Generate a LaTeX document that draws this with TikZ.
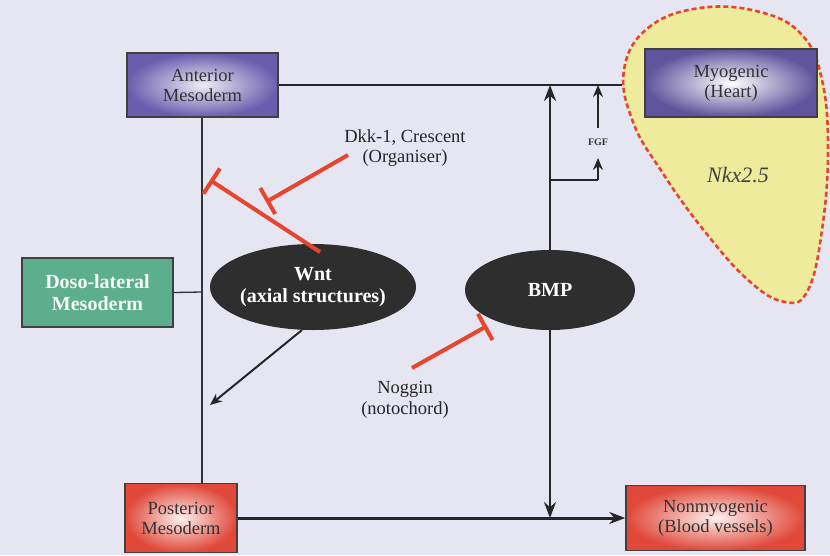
\documentclass[tikz,border=0pt]{standalone}
\usepackage{fontspec}
\setmainfont{Liberation Serif}
\usetikzlibrary{arrows.meta,shapes.geometric}
\definecolor{bg}{HTML}{E6E6F3}
\definecolor{inh}{HTML}{E8452F}
\definecolor{blob}{HTML}{EEEC9C}
\definecolor{purp}{HTML}{6A5DAE}
\definecolor{redb}{HTML}{E0483A}
\definecolor{grn}{HTML}{5DAE8C}
\begin{document}
\begin{tikzpicture}[x=1pt,y=-1pt,
  boxtext/.style={font=\fontsize{18.5}{20}\selectfont,align=center,text=black!80},
  purpbox/.style={draw=black!75,line width=1.5pt,inner color=purp!12,outer color=purp,boxtext},
  redbox/.style={draw=black!75,line width=1.5pt,inner color=redb!8,outer color=redb,boxtext},
  grnbox/.style={draw=black!75,line width=1.5pt,fill=grn,align=center,text=white!95!grn,font=\bfseries\fontsize{20}{22}\selectfont},
  oval/.style={ellipse,fill=black!82,text=white,align=center,font=\bfseries\fontsize{20}{22}\selectfont,inner sep=0pt},
  arr/.style={draw=black!85,-{Stealth[length=16pt,width=12pt]}},
  sarr/.style={draw=black!85,-{Stealth[length=12pt,width=10pt]}},
  inhib/.style={draw=inh,line width=4pt,-{Bar[width=30pt,line width=4pt]}},
  lbl/.style={font=\fontsize{18.5}{20.5}\selectfont,align=center,text=black!85}]
\useasboundingbox (0,0) rectangle (830,555);
\fill[bg] (0,0) rectangle (830,555);
% yellow blob
\fill[blob] plot[smooth cycle,tension=0.7] coordinates {(624,70) (648,28) (700,8) (760,12) (802,35) (822,80) (828,150) (822,230) (808,290) (785,302) (748,280) (702,228) (662,172) (633,122)};
\draw[inh,line width=2.6pt,dash pattern=on 5pt off 3pt] plot[smooth cycle,tension=0.7] coordinates {(624,70) (648,28) (700,8) (760,12) (802,35) (822,80) (828,150) (822,230) (808,290) (785,302) (748,280) (702,228) (662,172) (633,122)};
\node[font=\itshape\fontsize{22}{24}\selectfont,text=black!75] (nkx) at (738,175) {Nkx2.5};
% boxes
\node[purpbox,minimum width=151pt,minimum height=64pt] (ant) at (202.5,85) {Anterior\\Mesoderm};
\node[purpbox,minimum width=172pt,minimum height=68pt,inner color=white,outer color=purp!90!black] (myo) at (731,83) {Myogenic\\(Heart)};
\node[grnbox,minimum width=151pt,minimum height=69pt] (dl) at (97.5,292.5) {Doso-lateral\\Mesoderm};
\node[redbox,minimum width=112pt,minimum height=69pt] (post) at (181,518) {Posterior\\Mesoderm};
\node[redbox,minimum width=179pt,minimum height=65pt] (nonm) at (715.5,518) {Nonmyogenic\\(Blood vessels)};
% ovals
\node[oval,minimum width=190pt,minimum height=86pt] (wnt) at (313,287) {Wnt\\(axial structures)};
\node[oval,minimum width=170pt,minimum height=80pt] (bmp) at (550,290) {BMP};
% coordinates
\coordinate (lt) at (202,117);
\coordinate (lb) at (202,482);
\coordinate (lm) at (202,292);
\coordinate (topend) at (622,85);
\coordinate (bmptop) at (550,85);
\coordinate (bmpbot) at (550,518);
\coordinate (fgfj) at (550,180);
\coordinate (fgfc) at (598,180);
\coordinate (fgfa) at (598,158);
\coordinate (fgfb) at (598,128);
\coordinate (fgft) at (598,85);
% lines
\draw[black!80,line width=1.3pt] (ant.south -| lt) -- (post.north -| lb);
\draw[black!80,line width=1.3pt] (dl.east) -- (lm);
\draw[black!85,line width=2pt] (ant.east) -- (topend);
\draw[arr,line width=2.8pt] (bmp.north) -- (bmptop);
\draw[arr,line width=2.2pt] (bmp.south) -- (bmpbot);
\draw[arr,line width=3pt] (post.east) -- (nonm.west);
\draw[black!85,line width=1.5pt] (fgfj) -- (fgfc);
\draw[sarr,line width=1.8pt] (fgfc) -- (fgfa);
\draw[sarr,line width=1.8pt] (fgfb) -- (fgft);
\node[font=\bfseries\fontsize{10}{11}\selectfont,text=black!80] (fgf) at (598,142) {FGF};
\coordinate (wa) at (302,330);
\coordinate (wb) at (210,405);
\draw[sarr,line width=2pt] (wa) -- (wb);
% inhibitory
\coordinate (i1s) at (320,252);
\coordinate (i1e) at (210,180);
\draw[inhib] (i1s) -- (i1e);
\coordinate (i2s) at (348,155);
\coordinate (i2e) at (266,202);
\draw[inhib] (i2s) -- (i2e);
\coordinate (i3s) at (412,368);
\coordinate (i3e) at (487,326);
\draw[inhib] (i3s) -- (i3e);
% labels
\node[lbl] (dkk) at (405,148) {Dkk-1, Crescent\\(Organiser)};
\node[lbl] (nog) at (405,400) {Noggin\\(notochord)};
\end{tikzpicture}
\end{document}
